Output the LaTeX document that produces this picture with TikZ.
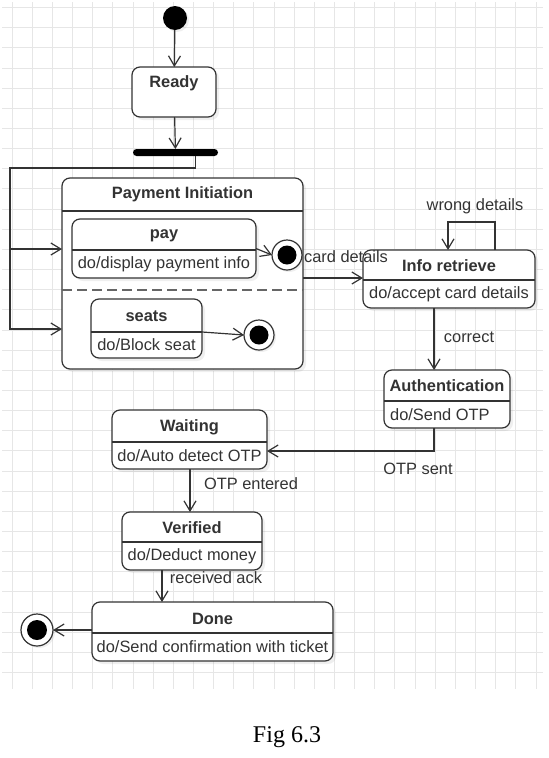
\documentclass[tikz,border=0pt]{standalone}
\usepackage{fontspec}
\setmainfont{Liberation Sans}
\newfontfamily\capfont{Liberation Serif}
\usetikzlibrary{arrows.meta,shadows}
\definecolor{ink}{HTML}{333333}
\definecolor{gridc}{HTML}{E6E6E6}
\newcommand{\umlstate}[8]{%
  \node[statebox, minimum width={(#4-#2)*1pt}, minimum height={(#5-#3)*1pt}] (#1) at ({(#2+#4)/2},{(#3+#5)/2}) {};
  \draw[divider] (#1.west |- 0,#6) -- (#1.east |- 0,#6);
  \node[titletext] (#1-t) at ({(#2+#4)/2},{(#3+#6)/2+1}) {#7};
  \node[bodytext] (#1-b) at ({(#2+#4)/2},{(#6+#5)/2}) {#8};
}
\begin{document}
\begin{tikzpicture}[x=1pt,y=-1pt,
  statebox/.style={draw=ink, line width=1.2pt, rounded corners=8pt, fill=white, inner sep=0pt, outer sep=0pt,
    drop shadow={shadow xshift=3pt,shadow yshift=-3pt,opacity=0.12}},
  divider/.style={draw=ink, line width=1.2pt},
  titletext/.style={font=\bfseries\fontsize{16.4}{19}\selectfont, text=ink, inner sep=0pt},
  bodytext/.style={font=\fontsize{16.4}{19}\selectfont, text=ink, inner sep=0pt},
  lbl/.style={font=\fontsize{16.4}{19}\selectfont, text=ink, inner sep=0pt},
  finalstate/.style={circle, draw=ink, line width=1.2pt, fill=white, minimum size=30pt, inner sep=0pt, outer sep=0pt,
    drop shadow={shadow xshift=2pt,shadow yshift=-2pt,opacity=0.12}},
  arrow/.style={draw=ink, line width=1.2pt, -{Straight Barb[length=10pt,width=12pt]}},
  gridline/.style={draw=gridc, line width=0.8pt}
]
\useasboundingbox (0,0) rectangle (549,758);
\fill[white] (0,0) rectangle (549,758);
% background grid
\foreach \i in {0,...,26} \draw[gridline] ({12+20.15*\i},2) -- ({12+20.15*\i},689);
\foreach \j in {0,...,33} \draw[gridline] (2,{7.5+20.15*\j}) -- (543,{7.5+20.15*\j});

% initial state and Ready
\node[circle, fill=black, minimum size=24pt, inner sep=0pt,
  drop shadow={shadow xshift=2pt,shadow yshift=-2pt,opacity=0.12}] (init) at (175,18) {};
\node[statebox, minimum width=84pt, minimum height=50pt] (ready) at (174,92) {};
\node[titletext] (ready-t) at (174,83) {Ready};
\node[fill=black, rounded corners=3.5pt, minimum width=85pt, minimum height=7pt, inner sep=0pt, outer sep=0pt] (fork) at (175.5,152.5) {};

% composite state
\node[statebox, minimum width=241pt, minimum height=191pt] (comp) at (182.5,273.5) {};
\draw[divider] (comp.west |- 0,211) -- (comp.east |- 0,211);
\node[titletext] (comp-t) at (182.5,194) {Payment Initiation};
\draw[draw=ink!75, line width=1.5pt, dash pattern=on 10pt off 5pt] (comp.west |- 0,290) -- (comp.east |- 0,290);

\umlstate{pay}{72}{219}{256}{278}{250}{pay}{do/display payment info}
\umlstate{seats}{91}{299}{202}{358}{332}{seats}{do/Block seat}
\node[finalstate] (payfin) at (287,255) {};
\fill[black] (payfin.center) circle[radius=9.5pt];
\node[finalstate] (seatsfin) at (259,335) {};
\fill[black] (seatsfin.center) circle[radius=9.5pt];

\umlstate{info}{363}{250}{535}{308}{280}{Info retrieve}{do/accept card details}
% Authentication (body text set to the left)
\node[statebox, minimum width=126pt, minimum height=58pt] (auth) at (447,399) {};
\draw[divider] (auth.west |- 0,401) -- (auth.east |- 0,401);
\node[titletext] (auth-t) at (447,386) {Authentication};
\node[bodytext, anchor=west] (auth-b) at (390,415) {do/Send OTP};
\umlstate{wait}{112}{410}{267}{469}{442}{Waiting}{do/Auto detect OTP}
\umlstate{ver}{122}{512}{262}{570}{542}{Verified}{do/Deduct money}
\umlstate{done}{92}{602}{333}{661}{633}{Done}{do/Send confirmation with ticket}
\node[finalstate, minimum size=32pt] (donefin) at (37,630) {};
\fill[black] (donefin.center) circle[radius=10pt];

% connectors
\draw[arrow] (init) -- (ready);
\draw[arrow] (ready) -- (fork);
\draw[arrow] ([xshift=20pt]fork.south) -- ++(0,12) -| (10,329) -- (comp.west |- 0,329);
\draw[arrow] (10,249) -- (comp.west |- 0,249);
\draw[arrow] (pay.east) -- (payfin.west);
\draw[arrow] (seats.east |- 0,332) -- (seatsfin.west);
\draw[arrow] (comp.east |- 0,278) -- (info.west |- 0,278);
\node[lbl] (l-card) at (346,257) {card details};
\draw[arrow] (info.north -| 495,0) |- (448,222) -- (info.north -| 448,0);
\node[lbl] (l-wrong) at (475,206) {wrong details};
\draw[arrow] (info.south -| 434,0) -- (auth.north -| 434,0);
\node[lbl] (l-corr) at (469,337) {correct};
\draw[arrow] (auth.south -| 434,0) |- (wait.east |- 0,451);
\node[lbl] (l-otp) at (418,469) {OTP sent};
\draw[arrow] (wait.south -| 190,0) -- (ver.north -| 190,0);
\node[lbl] (l-ent) at (251,484) {OTP entered};
\draw[arrow] (ver.south -| 162,0) -- (done.north -| 162,0);
\node[lbl] (l-ack) at (216,578) {received ack};
\draw[arrow] (done.west |- donefin) -- (donefin.east);

% caption
\node[font=\capfont\fontsize{24}{28}\selectfont, text=black, inner sep=0pt] (cap) at (287,737) {Fig 6.3};
\end{tikzpicture}
\end{document}
